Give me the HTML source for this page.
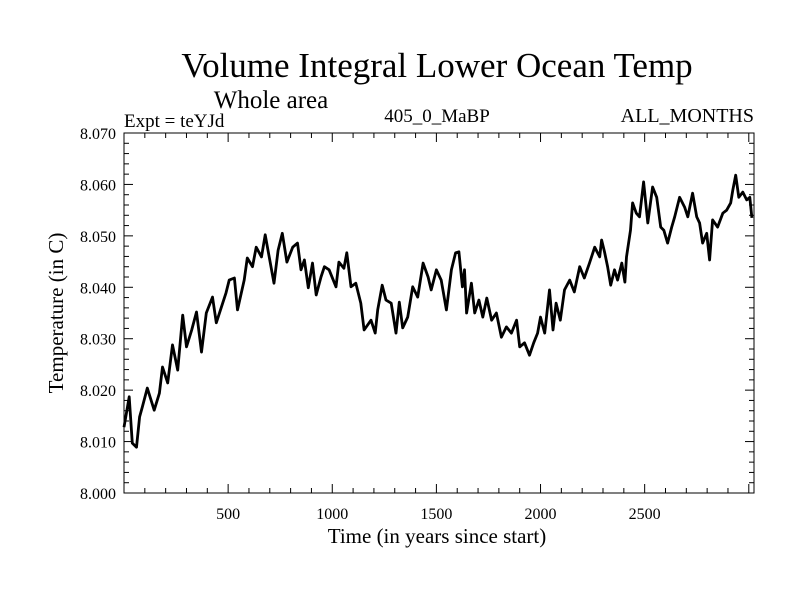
<!DOCTYPE html>
<html><head><meta charset="utf-8"><style>
body{margin:0;background:#fff}
svg text{font-family:"Liberation Serif",serif;fill:#000}
</style></head><body>
<svg id="chart" width="800" height="600" viewBox="0 0 800 600">
<text x="437" y="77" font-size="35" text-anchor="middle">Volume Integral Lower Ocean Temp</text>
<text x="271" y="108" font-size="25" text-anchor="middle">Whole area</text>
<text x="124" y="127" font-size="19">Expt = teYJd</text>
<text x="437" y="122" font-size="19" text-anchor="middle">405_0_MaBP</text>
<text x="754" y="122" font-size="20" text-anchor="end">ALL_MONTHS</text>
<text x="437" y="543" font-size="21" text-anchor="middle">Time (in years since start)</text>
<text transform="translate(63,313) rotate(-90)" font-size="21" text-anchor="middle">Temperature (in C)</text>
<g id="axes"></g>
<path id="line" fill="none" stroke="#000" stroke-width="2.8" stroke-linejoin="round"/>
<rect x="124" y="133" width="630" height="360" fill="none" stroke="#000" stroke-width="1"/>
</svg>
<script>
const years=[0,25,40,60,75,88,112,145,170,185,210,233,258,282,300,325,348,372,395,425,443,490,505,530,545,577,592,617,635,660,678,697,720,740,760,782,810,833,850,866,885,905,923,946,962,985,1018,1032,1056,1070,1090,1113,1137,1153,1186,1206,1218,1240,1258,1283,1306,1322,1338,1362,1386,1410,1436,1460,1475,1500,1523,1548,1572,1592,1608,1625,1635,1645,1668,1684,1704,1723,1742,1765,1788,1812,1836,1860,1885,1900,1923,1947,1967,1986,2000,2020,2043,2060,2075,2095,2115,2140,2162,2188,2210,2235,2260,2284,2293,2307,2322,2337,2355,2370,2390,2405,2413,2432,2442,2460,2475,2495,2515,2538,2558,2577,2592,2610,2630,2644,2668,2692,2707,2730,2750,2764,2778,2798,2812,2826,2850,2875,2894,2913,2923,2937,2952,2971,2990,3005,3015];
const temps=[8.0128,8.0187,8.0097,8.0089,8.0148,8.0167,8.0204,8.0161,8.0194,8.0245,8.0214,8.0288,8.0239,8.0346,8.0284,8.0317,8.0352,8.0274,8.0350,8.0381,8.0331,8.0389,8.0414,8.0418,8.0356,8.0414,8.0457,8.0440,8.0478,8.0459,8.0502,8.0459,8.0408,8.0472,8.0505,8.0449,8.0478,8.0486,8.0434,8.0453,8.0399,8.0447,8.0385,8.0420,8.0440,8.0434,8.0401,8.0449,8.0437,8.0467,8.0401,8.0408,8.0369,8.0317,8.0336,8.0311,8.0356,8.0404,8.0375,8.0369,8.0311,8.0371,8.0321,8.0342,8.0401,8.0381,8.0447,8.0420,8.0395,8.0434,8.0414,8.0356,8.0434,8.0467,8.0469,8.0401,8.0434,8.0350,8.0408,8.0350,8.0375,8.0342,8.0379,8.0336,8.0350,8.0303,8.0323,8.0311,8.0336,8.0284,8.0292,8.0268,8.0292,8.0311,8.0342,8.0311,8.0395,8.0317,8.0369,8.0336,8.0395,8.0414,8.0391,8.0440,8.0418,8.0447,8.0478,8.0459,8.0492,8.0469,8.0440,8.0404,8.0434,8.0414,8.0447,8.0410,8.0459,8.0511,8.0564,8.0544,8.0537,8.0605,8.0525,8.0595,8.0575,8.0517,8.0511,8.0486,8.0517,8.0537,8.0575,8.0556,8.0537,8.0583,8.0537,8.0525,8.0486,8.0505,8.0453,8.0531,8.0517,8.0544,8.0550,8.0564,8.0589,8.0618,8.0575,8.0585,8.0570,8.0575,8.0535];
const xTickLabels=[500,1000,1500,2000,2500];
const yTickLabels=["8.000","8.010","8.020","8.030","8.040","8.050","8.060","8.070"];
const X0=124,X1=754,Y0=493,Y1=133,XMIN=0,XMAX=3025,YMIN=8.0,YMAX=8.07;
function sx(v){return X0+(v-XMIN)/(XMAX-XMIN)*(X1-X0);}
function sy(v){return Y0-(v-YMIN)/(YMAX-YMIN)*(Y0-Y1);}
const ns="http://www.w3.org/2000/svg";
const g=document.getElementById('axes');
function ln(x1,y1,x2,y2,name){const l=document.createElementNS(ns,'line');
l.setAttribute('x1',x1);l.setAttribute('y1',y1);l.setAttribute('x2',x2);l.setAttribute('y2',y2);
l.setAttribute('stroke','#000');l.setAttribute('stroke-width','1');


g.appendChild(l);}
function tx(x,y,s,anchor,name){const t=document.createElementNS(ns,'text');
t.setAttribute('x',x);t.setAttribute('y',y);t.setAttribute('font-size','16');t.setAttribute('text-anchor',anchor);t.textContent=s;


g.appendChild(t);}
for(let v=100;v<XMAX;v+=100){const x=sx(v);const L=(v%500===0)?9:5;
ln(x,Y0,x,Y0-L,'x-tick');ln(x,Y1,x,Y1+L,'x-tick-top');}
xTickLabels.forEach(v=>tx(sx(v),519,String(v),'middle','x-tick-label'));
for(let i=0;i<=35;i++){const v=YMIN+i*0.002;const y=sy(v);const L=(i%5===0)?9:5;
ln(X0,y,X0+L,y,'y-tick');ln(X1,y,X1-L,y,'y-tick-right');}
yTickLabels.forEach(s=>tx(116,sy(parseFloat(s))+6,s,'end','y-tick-label'));
let d='';years.forEach((yr,i)=>{d+=(i?'L':'M')+sx(yr).toFixed(1)+','+sy(temps[i]).toFixed(1);});
document.getElementById('line').setAttribute('d',d);
</script>
</body></html>
